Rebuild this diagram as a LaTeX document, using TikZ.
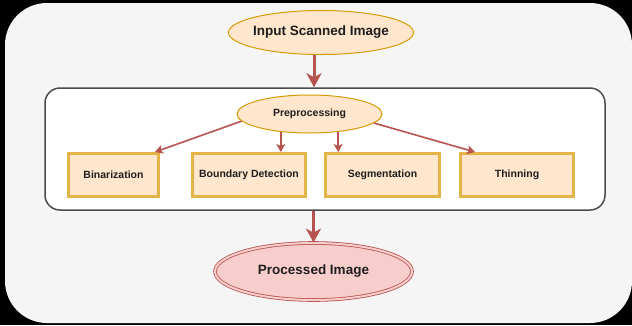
\documentclass[tikz,border=0pt]{standalone}
\usepackage{fontspec}
\setmainfont{Liberation Sans}
\usepackage{tikz}
\usetikzlibrary{arrows.meta,shapes.geometric,positioning}
\definecolor{hgrau}{HTML}{F5F5F5}
\definecolor{orangefill}{HTML}{FFE6CC}
\definecolor{orangerand}{HTML}{D79B00}
\definecolor{goldrand}{HTML}{E3B448}
\definecolor{rotlinie}{HTML}{B85450}
\definecolor{rosafill}{HTML}{F8CECC}
\definecolor{textfarbe}{HTML}{1E1E1E}
\tikzset{
  oval/.style={ellipse,draw=orangerand,fill=orangefill,line width=1pt,inner sep=0pt,text=textfarbe,font=\bfseries\fontsize{13.5}{16}\selectfont},
  kasten/.style={rectangle,draw=goldrand,fill=orangefill,line width=3pt,inner sep=0pt,minimum height=43pt,text=textfarbe,font=\bfseries\fontsize{10.5}{12}\selectfont},
  rahmen/.style={rectangle,draw=black!70,fill=white,line width=1.5pt,rounded corners=15pt},
  dickpfeil/.style={draw=rotlinie,line width=3pt,-{Stealth[length=14pt,width=15pt,inset=4pt]}},
  duennpfeil/.style={draw=rotlinie,line width=1.6pt,-{Stealth[length=8pt,width=9pt,inset=2pt]}},
}
\begin{document}
\begin{tikzpicture}[x=1pt,y=-1pt]
%Maße in Pixel aus dem Vorbild (632x325), y zeigt nach unten
\useasboundingbox (0,0) rectangle (632,325);
\fill[black] (0,0) rectangle (632,325);
\fill[hgrau,rounded corners=42pt] (5,3) rectangle (632,323);
\node[rahmen,minimum width=560pt,minimum height=122pt] (block) at (325,149) {};
\node[oval,inner xsep=-20pt,minimum width=185pt,minimum height=44pt] (inp) at (321,32.5) {Input Scanned Image};
\node[oval,minimum width=145pt,minimum height=38pt,font=\bfseries\fontsize{10.5}{12}\selectfont] (pre) at (309.5,114) {Preprocessing};
%Kaesten: Name/Mitte x/Breite/Text
\foreach \name/\xm/\breite/\txt in {bin/113.5/90/Binarization,bd/249/113/Boundary Detection,seg/382.5/114/Segmentation,thin/517/113/Thinning}{
\node[kasten,minimum width=\breite pt] (\name) at (\xm,175) {\txt};
}
\node[oval,draw=rotlinie,fill=rosafill,double=rosafill,double distance=2pt,line width=0.8pt,minimum width=197pt,minimum height=57pt] (proc) at (313.5,271.5) {Processed Image};
\draw[dickpfeil] ([xshift=-7pt]inp.south) -- ([xshift=-7pt]inp.south |- block.north);
\draw[dickpfeil] (proc.north |- block.south) -- (proc.north);
\draw[duennpfeil] (pre.186) -- ([xshift=-5pt]bin.north east);
\draw[duennpfeil] (pre.212) -- (pre.212 |- bd.north);
\draw[duennpfeil] (pre.328) -- (pre.328 |- seg.north);
\draw[duennpfeil] (pre.352) -- ([xshift=16pt]thin.north west);
\end{tikzpicture}
\end{document}
